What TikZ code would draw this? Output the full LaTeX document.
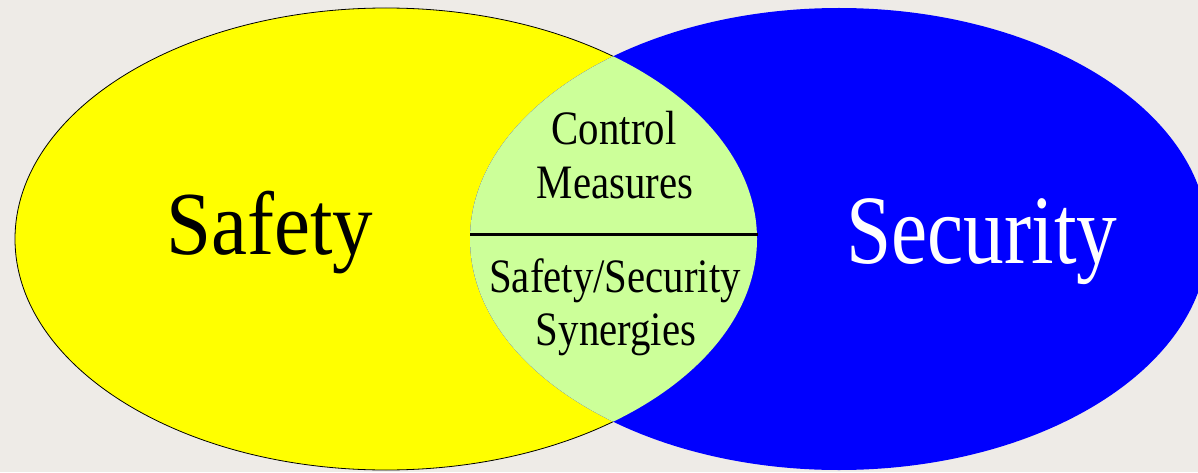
\documentclass[tikz,border=0pt]{standalone}
\usepackage{fontspec}
\setmainfont{Liberation Serif}
\definecolor{bgc}{HTML}{EEEBE7}
\definecolor{ylw}{HTML}{FFFF00}
\definecolor{blu}{HTML}{0000FF}
\definecolor{lens}{HTML}{CCFF99}
\begin{document}
\begin{tikzpicture}[x=1pt,y=1pt,
  smalltxt/.style={anchor=base,inner sep=0pt,font=\fontsize{48}{48}\selectfont},
  bigtxt/.style={anchor=base,inner sep=0pt}]
\useasboundingbox (0,0) rectangle (1198,472);
\clip (0,0) rectangle (1198,472);
\fill[bgc] (0,0) rectangle (1198,472);
% Safety ellipse
\filldraw[fill=ylw,draw=black,line width=0.8pt] (386,233) ellipse [x radius=371,y radius=231];
% Security ellipse
\fill[blu] (839,233) ellipse [x radius=369,y radius=231];
% lens
\begin{scope}
\clip (386,233) ellipse [x radius=371,y radius=231];
\fill[lens] (839,233) ellipse [x radius=369,y radius=231];
\end{scope}
\coordinate (lineL) at (470,238);
\coordinate (lineR) at (758,238);
\draw[line width=3pt] (lineL) -- (lineR);
\node[bigtxt,font=\fontsize{90}{90}\selectfont] (safety) at (270,218) {\scalebox{0.9}[1]{Safety}};
\node[bigtxt,font=\fontsize{98}{98}\selectfont,text=white] (security) at (982,209) {\scalebox{0.83}[1]{Security}};
\node[smalltxt] (control) at (614,327) {\scalebox{0.85}[1]{Control}};
\node[smalltxt] (measures) at (615,274) {\scalebox{0.85}[1]{Measures}};
\node[smalltxt] (sasec) at (615,180) {\scalebox{0.85}[1]{Safety/Security}};
\node[smalltxt] (syn) at (616,127) {\scalebox{0.85}[1]{Synergies}};
\end{tikzpicture}
\end{document}
